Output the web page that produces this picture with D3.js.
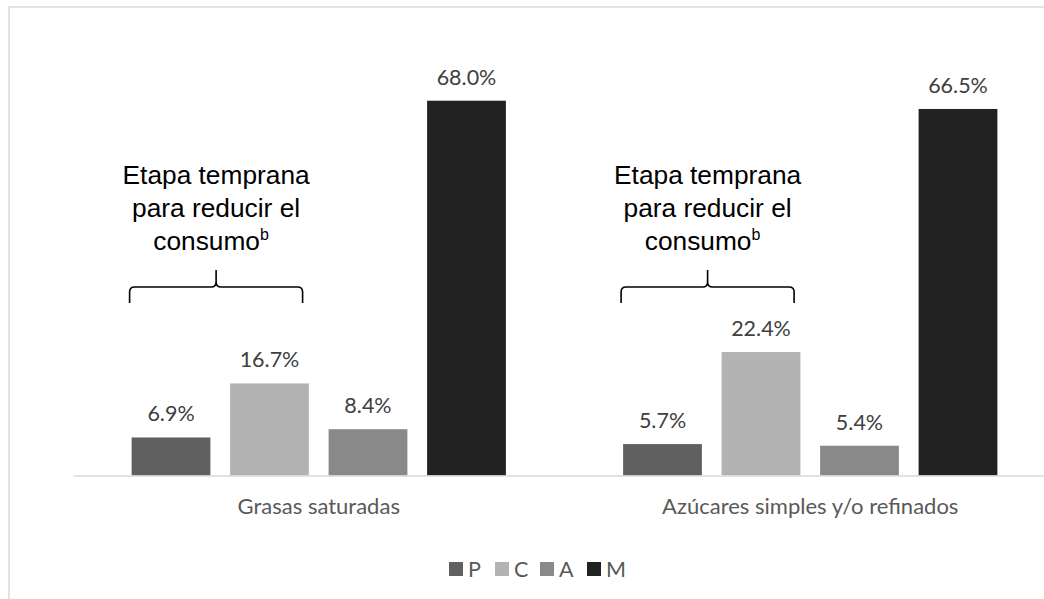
<!DOCTYPE html>
<html>
<head>
<meta charset="utf-8">
<script src="https://cdn.jsdelivr.net/npm/d3@7"></script>
<style>
  html, body { margin: 0; padding: 0; background: #fff; }
  svg { display: block; }
</style>
</head>
<body>
<svg id="chart" width="1044" height="599"></svg>
<script>
// Nutrient categories and the four consumption stages (percent of respondents)
const categories = ["Grasas saturadas", "Azúcares simples y/o refinados"];
const seriesNames = ["P", "C", "A", "M"];
const valuesP = [6.9, 5.7];
const valuesC = [16.7, 22.4];
const valuesA = [8.4, 5.4];
const valuesM = [68.0, 66.5];
const noteLines = ["Etapa temprana", "para reducir el", "consumo"];
const noteSup = "b";

const seriesValues = [valuesP, valuesC, valuesA, valuesM];
const colors = ["#606060", "#b3b3b3", "#898989", "#222222"];

const svg = d3.select("#chart");
const W = 1044, H = 599;
const labelFont = "Lato, 'Open Sans', sans-serif";

// light frame around the chart area
svg.append("rect")
  .attr("x", 9).attr("y", 7)
  .attr("width", W + 20).attr("height", H + 20)
  .attr("fill", "none").attr("stroke", "#d9d9d9").attr("stroke-width", 1.5);

const plotLeft = 73, plotRight = 1056, baseline = 475.5, plotTop = 100.7;

const x0 = d3.scaleBand().domain(categories).range([plotLeft, plotRight]).paddingInner(0).paddingOuter(0);
const x1 = d3.scaleBand().domain(seriesNames).range([0, x0.bandwidth()]).paddingInner(0.2).paddingOuter(0.595);
const y = d3.scaleLinear().domain([0, 68.0]).range([baseline, plotTop]);

// bars and value labels
const rows = categories.map((c, i) => ({ cat: c, vals: seriesNames.map((s, j) => ({ s, v: seriesValues[j][i], color: colors[j] })) }));

const groups = svg.selectAll("g.grp").data(rows).enter().append("g")
  .attr("class", "grp")
  .attr("transform", d => `translate(${x0(d.cat)},0)`);

groups.selectAll("rect").data(d => d.vals).enter().append("rect")
  .attr("x", d => x1(d.s))
  .attr("y", d => y(d.v))
  .attr("width", x1.bandwidth())
  .attr("height", d => baseline - y(d.v))
  .attr("fill", d => d.color);

groups.selectAll("text.val").data(d => d.vals).enter().append("text")
  .attr("class", "val")
  .attr("x", d => x1(d.s) + x1.bandwidth() / 2)
  .attr("y", d => y(d.v) - 16)
  .attr("text-anchor", "middle")
  .attr("font-family", labelFont)
  .attr("font-size", 21.5)
  .attr("fill", "#404040")
  .text(d => d.v.toFixed(1) + "%");

// category axis
const axis = d3.axisBottom(x0).tickSize(0).tickPadding(23);
const ax = svg.append("g").attr("transform", `translate(0,${baseline})`).call(axis);
ax.select(".domain").attr("stroke", "#d9d9d9").attr("stroke-width", 1.5);
ax.selectAll("text")
  .attr("font-family", labelFont)
  .attr("font-size", 22)
  .attr("fill", "#595959");

// annotation: brace over the first three bars of each group plus note text
rows.forEach(r => {
  const gx = x0(r.cat);
  const xl = gx + x1("P") - 2;
  const xr = gx + x1("A") - 26;
  const mid = (xl + xr) / 2;
  const yH = 287, yEnd = 303, yTip = 270, rr = 5;
  const p = d3.path();
  p.moveTo(xl, yEnd);
  p.lineTo(xl, yH + rr);
  p.quadraticCurveTo(xl, yH, xl + rr, yH);
  p.lineTo(mid - rr, yH);
  p.quadraticCurveTo(mid, yH, mid, yH - rr);
  p.lineTo(mid, yTip);
  p.moveTo(mid, yH - rr);
  p.quadraticCurveTo(mid, yH, mid + rr, yH);
  p.lineTo(xr - rr, yH);
  p.quadraticCurveTo(xr, yH, xr, yH + rr);
  p.lineTo(xr, yEnd);
  svg.append("path").attr("d", p.toString())
    .attr("fill", "none").attr("stroke", "#000").attr("stroke-width", 1.6);

  const t = svg.append("text")
    .attr("text-anchor", "middle")
    .attr("font-family", "'Liberation Sans', Arial, sans-serif")
    .attr("font-size", 26.3)
    .attr("fill", "#000");
  noteLines.forEach((line, i) => {
    t.append("tspan").attr("x", mid + (i === 2 ? -5 : 0)).attr("y", 184 + i * 33).text(line);
    if (i === 2) {
      t.append("tspan").attr("font-size", 16).attr("dy", -10).text(noteSup);
    }
  });
});

// legend
const legendX = [449, 495, 540, 587];
const lg = svg.append("g");
seriesNames.forEach((s, i) => {
  lg.append("rect").attr("x", legendX[i]).attr("y", 562).attr("width", 14).attr("height", 14).attr("fill", colors[i]);
  lg.append("text").attr("x", legendX[i] + 19).attr("y", 576.5)
    .attr("font-family", labelFont)
    .attr("font-size", 21.5).attr("fill", "#595959").text(s);
});
</script>
</body>
</html>
